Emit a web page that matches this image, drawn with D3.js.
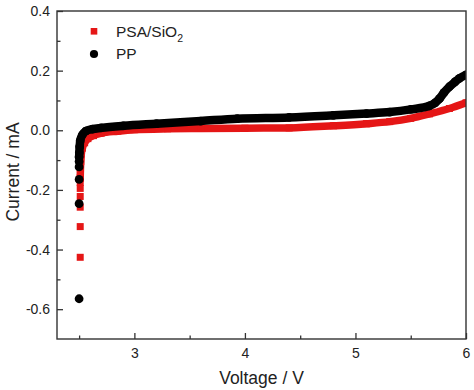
<!DOCTYPE html>
<html>
<head>
<meta charset="utf-8">
<script src="https://cdn.jsdelivr.net/npm/d3@7"></script>
<style>
  html, body { margin: 0; padding: 0; background: #fff; }
  svg { display: block; font-family: Arial, "Liberation Sans", sans-serif; }
</style>
</head>
<body>
<svg id="chart" width="474" height="390"></svg>
<script>
// ---- data ----
const xMajorTicks = [3, 4, 5, 6];
const xMinorTicks = [2.5, 3.5, 4.5, 5.5];
const yMajorTicks = [-0.6, -0.4, -0.2, 0.0, 0.2, 0.4];
const yMinorTicks = [-0.5, -0.3, -0.1, 0.1, 0.3];

// PSA/SiO2 (red squares): isolated points at the start of the sweep
const psaSparseV = [2.51, 2.51, 2.51, 2.51, 2.51, 2.51];
const psaSparseI = [-0.426, -0.323, -0.258, -0.222, -0.195, -0.175];
// PSA/SiO2 dense trace
const psaV = [2.51, 2.512, 2.515, 2.52, 2.53, 2.55, 2.58, 2.63, 2.70, 2.85, 3.00, 3.30, 3.60, 4.00, 4.40, 4.80, 5.10, 5.31, 5.50, 5.67, 5.85, 6.00];
const psaI = [-0.16, -0.13, -0.105, -0.08, -0.06, -0.042, -0.028, -0.018, -0.010, -0.003, 0.002, 0.005, 0.006, 0.007, 0.008, 0.015, 0.022, 0.029, 0.040, 0.055, 0.073, 0.092];

// PP (black circles): isolated points
const ppSparseV = [2.50, 2.50, 2.50, 2.50, 2.50];
const ppSparseI = [-0.565, -0.246, -0.165, -0.123, -0.105];
// PP dense trace
const ppV = [2.50, 2.502, 2.505, 2.51, 2.53, 2.56, 2.62, 2.70, 2.90, 3.20, 3.60, 3.93, 4.40, 4.80, 5.10, 5.31, 5.50, 5.67, 5.72, 5.76, 5.80, 5.85, 5.90, 5.94, 6.00];
const ppI = [-0.09, -0.075, -0.055, -0.035, -0.015, -0.003, 0.004, 0.008, 0.015, 0.022, 0.031, 0.039, 0.043, 0.050, 0.056, 0.061, 0.070, 0.082, 0.092, 0.106, 0.126, 0.146, 0.162, 0.174, 0.186];

const seriesNames = ["PSA/SiO", "PP"];
const xTitle = "Voltage / V";
const yTitle = "Current / mA";

// ---- layout ----
const svg = d3.select("#chart");
const L = 57, R = 466, T = 11, B = 339;
const x = d3.scaleLinear().domain([2.3, 6]).range([L, R]);
const y = d3.scaleLinear().domain([-0.7, 0.4]).range([B, T]);

const red = "#e51616";
const axisColor = "#333";

const zip = (a, b) => a.map((v, i) => [v, b[i]]);
const line = d3.line().x(d => x(d[0])).y(d => y(d[1])).curve(d3.curveMonotoneX);

const plot = svg.append("g");
svg.append("clipPath").attr("id", "clip")
  .append("rect").attr("x", L).attr("y", T - 10).attr("width", R - L).attr("height", B - T + 10);
plot.attr("clip-path", "url(#clip)");

// PSA/SiO2 trace
const psaDense = zip(psaV, psaI);
plot.append("path").datum(psaDense).attr("d", line)
  .attr("fill", "none").attr("stroke", red).attr("stroke-width", 7.5).attr("stroke-linecap", "square");
const sq = 7;
plot.selectAll(".psa").data(zip(psaSparseV, psaSparseI).concat(psaDense)).join("rect")
  .attr("x", d => x(d[0]) - sq / 2).attr("y", d => y(d[1]) - sq / 2)
  .attr("width", sq).attr("height", sq).attr("fill", red);

// PP trace
const ppDense = zip(ppV, ppI);
plot.append("path").datum(ppDense).attr("d", line)
  .attr("fill", "none").attr("stroke", "#000").attr("stroke-width", 8.5).attr("stroke-linecap", "round");
plot.selectAll(".pp").data(zip(ppSparseV, ppSparseI).concat(ppDense)).join("circle")
  .attr("cx", d => x(d[0])).attr("cy", d => y(d[1])).attr("r", 4.4).attr("fill", "#000");

// ---- axes ----
const fmtY = d => d.toFixed(1);
const gx = svg.append("g").attr("transform", `translate(0,${B})`)
  .call(d3.axisBottom(x).tickValues(xMajorTicks).tickSize(-6).tickPadding(9).tickFormat(d3.format("d")));
const gxm = svg.append("g").attr("transform", `translate(0,${B})`)
  .call(d3.axisBottom(x).tickValues(xMinorTicks).tickSize(-3.5).tickFormat(""));
const gy = svg.append("g").attr("transform", `translate(${L},0)`)
  .call(d3.axisLeft(y).tickValues(yMajorTicks).tickSize(-6).tickPadding(7).tickFormat(fmtY));
const gym = svg.append("g").attr("transform", `translate(${L},0)`)
  .call(d3.axisLeft(y).tickValues(yMinorTicks).tickSize(-3.5).tickFormat(""));

[gx, gxm, gy, gym].forEach(g => {
  g.select(".domain").remove();
  g.selectAll("line").attr("stroke", axisColor).attr("stroke-width", 1.3);
  g.selectAll("text").attr("fill", "#222").attr("font-size", 14)
    .attr("font-family", "Arial, 'Liberation Sans', sans-serif");
});

// frame
svg.append("rect").attr("x", L).attr("y", T).attr("width", R - L).attr("height", B - T)
  .attr("fill", "none").attr("stroke", axisColor).attr("stroke-width", 1.4);

// titles
svg.append("text").attr("x", (L + R) / 2).attr("y", 384).attr("text-anchor", "middle")
  .attr("font-size", 17.5).attr("fill", "#222").text(xTitle);
svg.append("text").attr("transform", "translate(19,172) rotate(-90)").attr("text-anchor", "middle")
  .attr("font-size", 17.5).attr("fill", "#222").text(yTitle);

// legend
const lg = svg.append("g");
lg.append("rect").attr("x", 94 - 3.3).attr("y", 31.3 - 3.3).attr("width", 6.6).attr("height", 6.6).attr("fill", red);
const t1 = lg.append("text").attr("x", 116).attr("y", 36.7).attr("font-size", 15.5).attr("fill", "#222");
t1.append("tspan").text(seriesNames[0]);
t1.append("tspan").attr("font-size", 10.5).attr("dy", 5).text("2");
lg.append("circle").attr("cx", 94).attr("cy", 54).attr("r", 4.1).attr("fill", "#000");
lg.append("text").attr("x", 116).attr("y", 59.3).attr("font-size", 15.5).attr("fill", "#222").text(seriesNames[1]);
</script>
</body>
</html>
